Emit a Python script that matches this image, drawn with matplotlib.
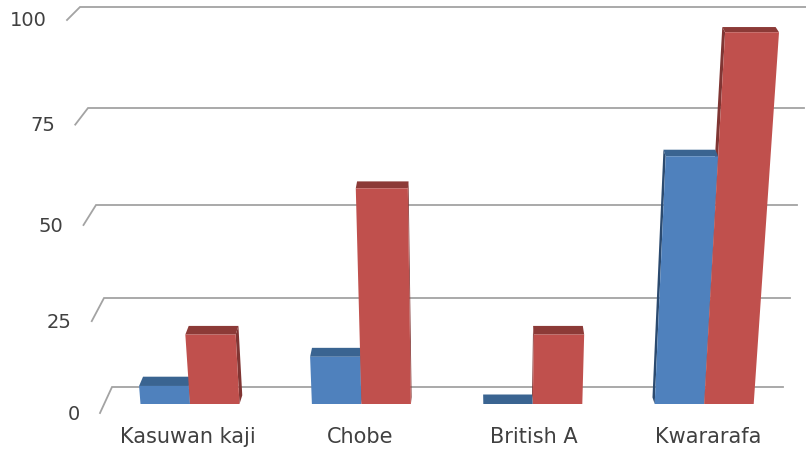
# barras em pseudo-3d, com a perspectiva feita a mao sobre um eixo em pixels
import matplotlib
matplotlib.use("Agg")
import matplotlib.pyplot as plt
from matplotlib.patches import Polygon

plt.rcParams["font.family"] = ["DejaVu Sans"]

categories = ["Kasuwan kaji", "Chobe", "British A", "Kwararafa"]
series_blue = [5, 13, 0, 65]
series_red = [19, 57, 19, 95]
y_ticks = [0, 25, 50, 75, 100]

BLUE = ("#4F81BD", "#3A6491", "#2B4A6F")
RED = ("#C0504D", "#8C3A37", "#803533")
GRID = "#a3a3a3"
TEXT = "#404040"

SLOT_0 = 190.0
SLOT_STEP = 171.4
BAR_W = 49.5
BASE_Y = 404.0
VANISH_X = 470.0
LABEL_SHIFT = [-2.5, -1, 1.5, 4]


def rise(v):
    # altura em pixels de um valor (a escala cresce um pouco para cima)
    return 3.59 * v + 0.0034 * v ** 2


def lean(x, h):
    # as arestas abrem a partir do ponto de fuga conforme sobem
    return x + (x - VANISH_X) * 0.00024 * h


def depth_x(x):
    return (VANISH_X - x) * 0.012


def depth_y(v):
    return 9.5 - 0.045 * v


def draw_side(ax, x0, v, colors):
    # a lateral que aparece depende do lado do ponto de fuga
    x = x0 if x0 > VANISH_X else x0 + BAR_W
    h = rise(v)
    pts = [(x, BASE_Y), (lean(x, h), BASE_Y - h),
           (lean(x, h) + depth_x(x), BASE_Y - h - depth_y(v)),
           (x + depth_x(x), BASE_Y - depth_y(v))]
    ax.add_patch(Polygon(pts, closed=True, fc=colors[2], ec="none"))


def draw_faces(ax, x0, v, colors):
    x1 = x0 + BAR_W
    h = rise(v)
    y_top = BASE_Y - h
    xl, xr = lean(x0, h), lean(x1, h)
    dy = depth_y(v)

    top_pts = [(xl, y_top), (xr, y_top),
               (xr + depth_x(x1), y_top - dy), (xl + depth_x(x0), y_top - dy)]
    ax.add_patch(Polygon(top_pts, closed=True, fc=colors[1], ec="none"))

    if v > 0:
        front_pts = [(x0, BASE_Y), (x1, BASE_Y), (xr, y_top), (xl, y_top)]
        ax.add_patch(Polygon(front_pts, closed=True, fc=colors[0], ec="none"))


fig = plt.figure(figsize=(8.06, 4.51), dpi=100)
ax = fig.add_axes([0, 0, 1, 1])
ax.set_xlim(0, 806)
ax.set_ylim(451, 0)
ax.axis("off")

# grade: trecho curto na frente e linha longa na parede do fundo
for v in y_ticks:
    y_front = 413 - rise(v)
    y_back = 387 - 3.48 * v - 0.0032 * v ** 2
    x_front = 100 - 0.33 * v
    x_back = 112 - 0.32 * v
    x_end = 783 + 0.28 * v
    ax.plot([x_front, x_back, x_end], [y_front, y_back, y_back],
            color=GRID, lw=1.3, solid_joinstyle="miter", zorder=1)
    ax.text(x_front - 20, y_front + 1, str(v), ha="right", va="center",
            fontsize=14, color=TEXT)

for i, name in enumerate(categories):
    center = SLOT_0 + SLOT_STEP * i
    # laterais antes das frentes: a azul esconde a lateral da vermelha
    draw_side(ax, center - BAR_W, series_blue[i], BLUE)
    draw_side(ax, center, series_red[i], RED)
    draw_faces(ax, center - BAR_W, series_blue[i], BLUE)
    draw_faces(ax, center, series_red[i], RED)
    ax.text(center + LABEL_SHIFT[i], 437, name, ha="center", va="center",
            fontsize=15, color=TEXT)

fig.savefig("out.png", dpi=100)
plt.close(fig)
